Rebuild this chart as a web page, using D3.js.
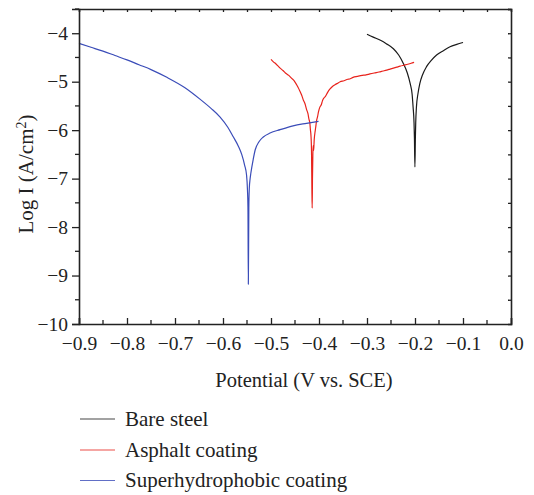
<!DOCTYPE html>
<html><head><meta charset="utf-8">
<script src="https://cdn.jsdelivr.net/npm/d3@7"></script>
<style>body{margin:0;background:#fff}svg{display:block}text{font-family:"Liberation Serif","Times New Roman",serif;fill:#222}</style>
</head><body>
<svg id="c" width="534" height="495"></svg>
<script>
const seriesNames = ["Bare steel", "Asphalt coating", "Superhydrophobic coating"];
const seriesColors = ["#1a1a1a", "#e8231c", "#3a4cb8"];
const xTicks = [-0.9,-0.8,-0.7,-0.6,-0.5,-0.4,-0.3,-0.2,-0.1,0.0];
const yTicks = [-10,-9,-8,-7,-6,-5,-4];

const bareV = [-0.300,-0.287,-0.273,-0.259,-0.245,-0.234,-0.224,-0.216,-0.210,-0.206,-0.204,-0.202,-0.2012,-0.2002,-0.1992,-0.1985,-0.197,-0.194,-0.190,-0.184,-0.176,-0.166,-0.155,-0.141,-0.127,-0.113,-0.100];
const bareL = [-4.02,-4.08,-4.14,-4.22,-4.32,-4.45,-4.63,-4.82,-5.04,-5.26,-5.52,-5.85,-6.15,-6.76,-6.15,-5.85,-5.52,-5.26,-5.04,-4.85,-4.69,-4.56,-4.45,-4.36,-4.28,-4.23,-4.19];

const asphV = [-0.500,-0.495,-0.490,-0.485,-0.481,-0.475,-0.470,-0.463,-0.457,-0.452,-0.448,-0.444,-0.440,-0.436,-0.433,-0.429,-0.426,-0.423,-0.421,-0.419,-0.418,-0.4165,-0.4155,-0.4148,-0.4142,-0.4136,-0.4128,-0.4120,-0.4112,-0.410,-0.408,-0.407,-0.405,-0.403,-0.401,-0.398,-0.395,-0.393,-0.390,-0.387,-0.382,-0.377,-0.372,-0.366,-0.361,-0.356,-0.348,-0.340,-0.335,-0.329,-0.320,-0.310,-0.302,-0.294,-0.285,-0.275,-0.267,-0.259,-0.252,-0.245,-0.238,-0.231,-0.223,-0.215,-0.208,-0.202];
const asphL = [-4.54,-4.59,-4.63,-4.68,-4.72,-4.77,-4.82,-4.87,-4.93,-4.98,-5.04,-5.11,-5.19,-5.28,-5.37,-5.46,-5.57,-5.66,-5.77,-5.86,-5.98,-6.15,-6.5,-7.2,-7.61,-7.0,-6.5,-6.32,-6.42,-6.2,-6.02,-5.95,-5.80,-5.72,-5.62,-5.52,-5.47,-5.40,-5.34,-5.31,-5.22,-5.15,-5.10,-5.06,-5.03,-5.00,-4.98,-4.95,-4.94,-4.91,-4.89,-4.87,-4.86,-4.84,-4.82,-4.80,-4.78,-4.76,-4.74,-4.72,-4.70,-4.68,-4.66,-4.64,-4.62,-4.60];

const superV = [-0.900,-0.875,-0.850,-0.825,-0.800,-0.775,-0.750,-0.717,-0.680,-0.648,-0.625,-0.606,-0.590,-0.579,-0.568,-0.561,-0.555,-0.551,-0.549,-0.548,-0.5472,-0.5462,-0.5452,-0.5435,-0.542,-0.537,-0.533,-0.525,-0.516,-0.502,-0.481,-0.454,-0.426,-0.401];
const superL = [-4.21,-4.29,-4.37,-4.46,-4.55,-4.65,-4.75,-4.91,-5.12,-5.36,-5.55,-5.73,-5.94,-6.13,-6.33,-6.50,-6.72,-6.92,-7.24,-7.6,-9.18,-7.6,-7.2,-7.0,-6.89,-6.6,-6.41,-6.24,-6.14,-6.06,-5.99,-5.91,-5.86,-5.82];

const seriesV = [bareV, asphV, superV];
const seriesL = [bareL, asphL, superL];

const svg = d3.select("#c");
const L = 79, R = 511, T = 9, B = 324;
const x = d3.scaleLinear().domain([-0.9, 0.0]).range([L, R]);
const y = d3.scaleLinear().domain([-10, -3.5]).range([B, T]);
const fmt = v => (v < 0 ? "\u2212" : "") + Math.abs(v).toFixed(1);
const fmtY = v => (v < 0 ? "\u2212" : "") + Math.abs(v);

// curves
const line = d3.line().curve(d3.curveMonotoneX).x(d => x(d[0])).y(d => y(d[1]));
seriesV.forEach((vs, i) => {
  const pts = vs.map((v, j) => [v, seriesL[i][j]]);
  svg.append("path").attr("d", line(pts)).attr("fill", "none")
    .attr("stroke", seriesColors[i]).attr("stroke-width", 1.2).attr("stroke-linejoin", "round");
});

// bottom axis: ticks inward
const minorX = d3.range(-0.85, 0, 0.1);
const gB = svg.append("g").attr("transform", `translate(0,${B})`);
gB.call(d3.axisBottom(x).tickValues(xTicks).tickSize(-6).tickPadding(12).tickFormat(fmt));
gB.append("g").selectAll("line").data(minorX).join("line")
  .attr("x1", d => x(d)).attr("x2", d => x(d)).attr("y1", 0).attr("y2", -4).attr("stroke", "#222").attr("stroke-width", 1.3);
// left axis: ticks outward
const minorY = d3.range(-9.5, -3.4, 1);
const gL = svg.append("g").attr("transform", `translate(${L},0)`);
gL.call(d3.axisLeft(y).tickValues(yTicks).tickSize(7).tickPadding(4).tickFormat(fmtY));
gL.append("g").selectAll("line").data(minorY).join("line")
  .attr("x1", 0).attr("x2", -4).attr("y1", d => y(d)).attr("y2", d => y(d)).attr("stroke", "#222").attr("stroke-width", 1.3);
// top axis
const gT = svg.append("g").attr("transform", `translate(0,${T})`);
gT.call(d3.axisTop(x).tickValues(d3.range(-0.85, 0, 0.05)).tickSize(-3).tickFormat(""));
// right axis
const gR = svg.append("g").attr("transform", `translate(${R},0)`);
gR.call(d3.axisRight(y).tickValues(d3.range(-9.5, -3.4, 0.5)).tickSize(-3).tickFormat(""));

[gB, gL, gT, gR].forEach(g => {
  g.select(".domain").attr("stroke", "#222").attr("stroke-width", 1.6);
  g.selectAll(".tick line").attr("stroke", "#222").attr("stroke-width", 1.3);
  g.selectAll("text").attr("font-family", '"Liberation Serif",serif').attr("font-size", 19.5).attr("fill", "#222");
});

// axis titles
svg.append("text").attr("x", 304).attr("y", 387).attr("text-anchor", "middle")
  .attr("font-size", 20.5).text("Potential (V vs. SCE)");
const yl = svg.append("text").attr("transform", "translate(33,174) rotate(-90)").attr("text-anchor", "middle").attr("font-size", 21);
yl.append("tspan").text("Log I (A/cm");
yl.append("tspan").attr("font-size", 14).attr("dy", -7).text("2");
yl.append("tspan").attr("dy", 7).text(")");

// legend
const legY = [419, 450, 480.5];
seriesNames.forEach((n, i) => {
  svg.append("line").attr("x1", 80).attr("x2", 115).attr("y1", legY[i]).attr("y2", legY[i])
    .attr("stroke", seriesColors[i]).attr("stroke-width", 1.2).attr("opacity", 0.8);
  svg.append("text").attr("x", 125).attr("y", legY[i]).attr("dy", "0.33em").attr("font-size", 21).text(n);
});
</script>
</body></html>
